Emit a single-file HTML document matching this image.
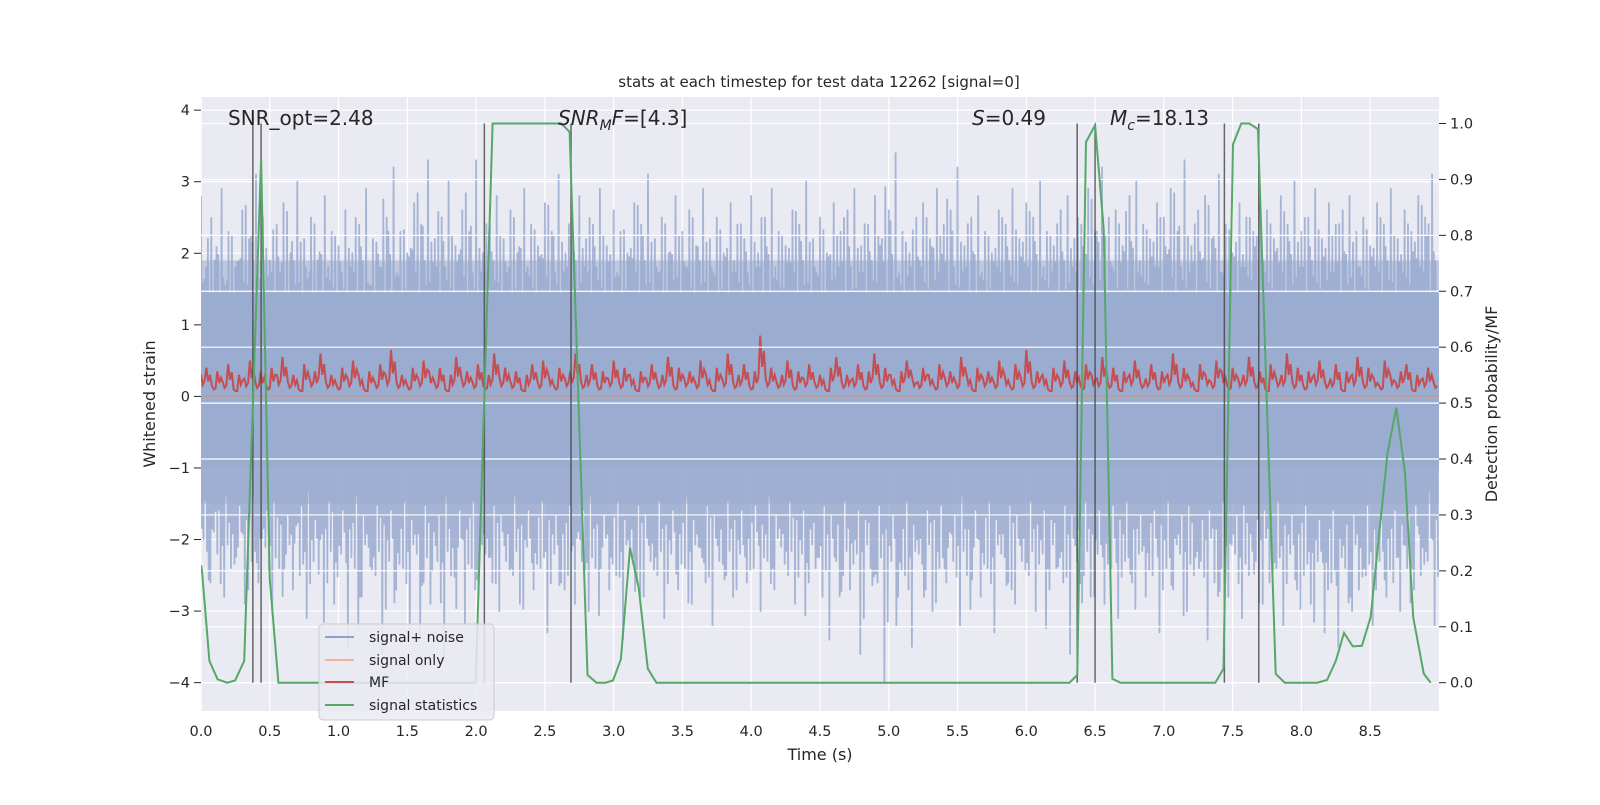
<!DOCTYPE html>
<html><head><meta charset="utf-8"><style>
body{margin:0;background:#fff;}
svg text{font-family:"DejaVu Sans","Liberation Sans",sans-serif;fill:#262626;}
</style></head><body>
<svg id="chart" width="1600" height="800" xmlns="http://www.w3.org/2000/svg">
<rect x="0" y="0" width="1600" height="800" fill="#fff"/>
<rect x="201" y="97" width="1238" height="614" fill="#eaeaf2"/>
<g id="grid"></g>
<clipPath id="clip"><rect x="201" y="97" width="1238" height="614"/></clipPath>
<g id="marks" clip-path="url(#clip)"></g>
<g id="grid2"></g>
<g id="marks2" clip-path="url(#clip)"></g>
<g id="axes"></g>
<text x="819" y="87" font-size="15" text-anchor="middle">stats at each timestep for test data 12262 [signal=0]</text>
<text x="228" y="125" font-size="20">SNR_opt=2.48</text>
<text x="558" y="125" font-size="20"><tspan font-style="italic">SNR</tspan><tspan font-style="italic" font-size="14" dy="5">M</tspan><tspan font-style="italic" dy="-5">F</tspan>=[4.3]</text>
<text x="972" y="125" font-size="20"><tspan font-style="italic">S</tspan>=0.49</text>
<text x="1110" y="125" font-size="20"><tspan font-style="italic">M</tspan><tspan font-style="italic" font-size="14" dy="5">c</tspan><tspan dy="-5">=18.13</tspan></text>
<text x="820" y="760" font-size="16" text-anchor="middle">Time (s)</text>
<text transform="translate(155,404) rotate(-90)" font-size="16" text-anchor="middle">Whitened strain</text>
<text transform="translate(1497,404) rotate(-90)" font-size="16" text-anchor="middle">Detection probability/MF</text>
<g>
<rect x="319" y="624" width="175" height="96" rx="4" fill="#eaeaf2" fill-opacity="0.85" stroke="#cccccc"/>
<g><line x1="325" y1="637" x2="354" y2="637" stroke="#8da0cb" stroke-width="2"/><text x="369" y="642" font-size="14">signal+ noise</text></g>
<g><line x1="325" y1="660" x2="354" y2="660" stroke="#eeb398" stroke-width="2"/><text x="369" y="665" font-size="14">signal only</text></g>
<g><line x1="325" y1="682" x2="354" y2="682" stroke="#c44e52" stroke-width="2"/><text x="369" y="687" font-size="14">MF</text></g>
<g><line x1="325" y1="705" x2="354" y2="705" stroke="#55a868" stroke-width="2"/><text x="369" y="710" font-size="14">signal statistics</text></g>
</g>
</svg>
<script>
const xTicks=[0,0.5,1,1.5,2,2.5,3,3.5,4,4.5,5,5.5,6,6.5,7,7.5,8,8.5];
const xTickLabels=["0.0","0.5","1.0","1.5","2.0","2.5","3.0","3.5","4.0","4.5","5.0","5.5","6.0","6.5","7.0","7.5","8.0","8.5"];
const yLeftTicks=[-4,-3,-2,-1,0,1,2,3,4];
const yRightTicks=[0,0.1,0.2,0.3,0.4,0.5,0.6,0.7,0.8,0.9,1.0];
const yRightLabels=["0.0","0.1","0.2","0.3","0.4","0.5","0.6","0.7","0.8","0.9","1.0"];
const statTimes=[0.0,0.007,0.061,0.121,0.19,0.248,0.314,0.437,0.5,0.563,1.997,2.12,2.62,2.68,2.81,2.875,2.94,2.995,3.053,3.119,3.182,3.248,3.311,6.313,6.371,6.434,6.5,6.563,6.626,6.684,7.374,7.434,7.503,7.563,7.621,7.684,7.813,7.879,8.115,8.187,8.25,8.31,8.374,8.44,8.503,8.626,8.69,8.753,8.813,8.89,8.94];
const statValues=[0.21,0.2,0.039,0.006,0,0.004,0.039,0.935,0.184,0,0,1.0,1.0,0.985,0.014,0,0,0.004,0.042,0.241,0.17,0.025,0,0,0.014,0.967,0.997,0.811,0.007,0,0,0.025,0.963,1.0,1.0,0.99,0.016,0,0,0.005,0.039,0.089,0.065,0.066,0.117,0.411,0.492,0.375,0.117,0.016,0];
const markerTimes=[0.377,0.437,2.06,2.69,6.37,6.5,7.44,7.69];
const noiseUpper=[2.8,2.2,1.9,2.9,2.3,1.8,2.6,2.2,3.1,2.5,1.9,2.4,2.7,2.0,3.0,2.2,2.5,1.9,2.8,2.3,2.1,2.6,2.0,2.4,2.9,2.2,1.8,2.5,3.2,2.3,2.0,2.7,2.4,3.3,2.2,2.5,3.0,2.1,2.6,2.3,3.3,2.0,2.4,2.8,2.2,2.6,2.0,2.9,2.4,2.1,2.7,2.3,3.1,2.0,2.5,2.8,2.2,2.4,2.9,2.1,2.6,2.3,2.0,2.7,2.4,3.1,2.2,2.5,2.0,2.8,2.3,2.6,2.1,2.9,2.2,2.5,2.0,2.7,2.4,2.2,2.8,2.0,2.5,2.9,2.3,2.1,2.6,2.4,3.0,2.2,2.5,2.0,2.7,2.3,2.6,2.9,2.1,2.4,2.8,2.2,2.6,3.4,2.3,2.0,2.5,2.7,2.2,2.9,2.4,2.6,3.2,2.1,2.5,2.8,2.3,2.0,2.6,2.4,2.9,2.2,2.7,2.5,3.0,2.3,2.1,2.6,2.8,2.2,2.4,2.9,2.3,3.2,2.5,2.6,2.1,2.8,3.0,2.4,2.2,2.7,2.5,2.9,2.3,3.3,2.1,2.6,2.8,2.2,3.1,2.4,2.0,2.7,2.5,2.3,2.9,2.6,2.2,2.8,2.4,3.0,2.3,2.5,2.9,2.2,2.7,2.4,2.6,2.8,2.3,2.5,2.1,2.7,2.4,2.9,2.2,2.6,2.3,2.8,2.5,3.1];
const noiseLower=[-2.3,-3.2,-2.0,-2.6,-2.2,-2.8,-2.4,-2.1,-2.9,-2.3,-2.6,-2.1,-3.0,-2.4,-2.2,-2.7,-2.5,-3.1,-2.3,-2.0,-2.6,-2.9,-2.2,-3.5,-2.4,-2.8,-2.1,-2.5,-3.6,-2.3,-2.7,-2.4,-3.3,-2.2,-2.6,-2.9,-2.3,-3.7,-2.5,-2.1,-3.2,-2.4,-2.8,-2.2,-2.6,-3.0,-2.3,-2.5,-2.9,-2.1,-2.7,-2.4,-3.3,-2.2,-2.6,-2.5,-2.9,-2.3,-3.0,-2.4,-2.1,-2.7,-2.5,-3.4,-2.2,-2.6,-2.8,-2.3,-2.5,-3.1,-2.2,-2.7,-2.4,-2.9,-2.1,-2.6,-3.2,-2.3,-2.5,-2.8,-2.2,-2.6,-2.4,-3.0,-2.3,-2.7,-2.1,-2.5,-2.9,-2.2,-2.6,-2.4,-2.8,-3.4,-2.3,-2.5,-2.7,-2.2,-3.1,-2.4,-2.6,-4.0,-2.3,-2.8,-2.5,-3.5,-2.2,-2.7,-3.0,-2.4,-2.6,-2.3,-3.2,-2.5,-2.1,-2.8,-2.4,-3.3,-2.2,-2.6,-2.9,-2.3,-2.5,-3.0,-2.2,-2.7,-2.4,-2.6,-3.6,-2.3,-2.5,-2.8,-2.2,-2.9,-2.4,-3.1,-2.3,-2.6,-2.2,-2.8,-2.5,-3.3,-2.4,-2.7,-2.2,-3.0,-2.5,-2.3,-3.4,-2.6,-2.4,-2.8,-2.2,-3.1,-2.5,-2.3,-2.9,-2.6,-2.4,-3.2,-2.2,-2.7,-2.5,-2.9,-2.3,-3.3,-2.6,-3.5,-2.4,-3.0,-2.7,-2.5,-3.2,-2.3,-2.8,-2.6,-3.0,-2.4,-2.7,-2.5];
const mfValues=[0.3,0.4,0.15,0.35,0.2,0.45,0.1,0.3,0.25,0.5,0.2,0.35,0.15,0.4,0.3,0.55,0.2,0.3,0.1,0.45,0.25,0.35,0.6,0.2,0.3,0.15,0.4,0.25,0.5,0.3,0.1,0.35,0.2,0.45,0.3,0.65,0.2,0.3,0.15,0.4,0.25,0.5,0.35,0.2,0.4,0.1,0.3,0.55,0.25,0.35,0.2,0.45,0.15,0.3,0.6,0.25,0.4,0.2,0.35,0.1,0.3,0.45,0.2,0.5,0.3,0.15,0.4,0.25,0.35,0.6,0.2,0.3,0.45,0.15,0.35,0.25,0.5,0.2,0.4,0.3,0.1,0.35,0.25,0.45,0.2,0.3,0.55,0.15,0.4,0.25,0.35,0.2,0.5,0.3,0.1,0.4,0.25,0.6,0.2,0.3,0.45,0.15,0.35,0.85,0.25,0.4,0.2,0.3,0.5,0.15,0.35,0.25,0.45,0.2,0.3,0.1,0.4,0.55,0.2,0.3,0.25,0.45,0.15,0.35,0.6,0.2,0.4,0.3,0.1,0.35,0.5,0.25,0.2,0.4,0.3,0.15,0.45,0.25,0.35,0.2,0.55,0.3,0.1,0.4,0.25,0.35,0.2,0.5,0.3,0.15,0.45,0.25,0.65,0.2,0.35,0.3,0.1,0.4,0.25,0.5,0.2,0.35,0.15,0.45,0.3,0.25,0.55,0.2,0.4,0.1,0.35,0.3,0.5,0.2,0.25,0.45,0.15,0.35,0.3,0.6,0.2,0.4,0.25,0.1,0.45,0.3,0.2,0.5,0.35,0.15,0.4,0.25,0.3,0.55,0.2,0.35,0.1,0.45,0.25,0.3,0.6,0.2,0.4,0.15,0.35,0.3,0.5,0.2,0.25,0.45,0.1,0.35,0.3,0.55,0.2,0.4,0.25,0.15,0.5,0.3,0.2,0.35,0.45,0.1,0.3,0.25,0.4,0.2];

const NS="http://www.w3.org/2000/svg";
const X0=201,PXS=137.55;
function xs(t){return X0+t*PXS;}
function yl(v){return 396.4-v*71.56;}
function yr(p){return 682.7-p*559.2;}
function mk(tag,attrs,parent){const e=document.createElementNS(NS,tag);for(const k in attrs)e.setAttribute(k,attrs[k]);parent.appendChild(e);return e;}
const grid=document.getElementById('grid'),grid2=document.getElementById('grid2'),marks=document.getElementById('marks'),marks2=document.getElementById('marks2'),axes=document.getElementById('axes');

xTicks.forEach((t,i)=>{
  const g=mk('line',{x1:xs(t),x2:xs(t),y1:97,y2:711,stroke:'#fff','stroke-width':1.2},grid);
  
  
  const tx=mk('text',{x:xs(t),y:736,'font-size':14.5,'text-anchor':'middle'},axes);
  tx.textContent=xTickLabels[i];
  
  
});
yLeftTicks.forEach(v=>{
  const g=mk('line',{x1:201,x2:1439,y1:yl(v),y2:yl(v),stroke:'#fff','stroke-width':1.2},grid);
  
  
  mk('line',{x1:194,x2:201,y1:yl(v),y2:yl(v),stroke:'#262626','stroke-width':1},axes);
  const tx=mk('text',{x:190,y:yl(v)+5,'font-size':14.5,'text-anchor':'end'},axes);
  tx.textContent=(v<0?'\u2212'+(-v):String(v));
  
  
});
yRightTicks.forEach((p,i)=>{
  const g=mk('line',{x1:201,x2:1439,y1:yr(p),y2:yr(p),stroke:'#fff','stroke-width':1.2},grid2);
  
  
  mk('line',{x1:1439,x2:1446,y1:yr(p),y2:yr(p),stroke:'#262626','stroke-width':1},axes);
  const tx=mk('text',{x:1450,y:yr(p)+5,'font-size':14.5},axes);
  tx.textContent=yRightLabels[i];
  
  
});

const N=noiseUpper.length, dt=9.0/N;
const upMul=[1,0.72,0.86,0.62];
const loMul=[0.8,1,0.66,0.9];
let d='';
for(let i=0;i<N;i++){
  for(let k=0;k<4;k++){
    const t=i*dt+k*dt/4;
    d+=((i||k)?'L':'M')+xs(t).toFixed(1)+','+yl(noiseUpper[(i+k)%N]*upMul[k]).toFixed(1)+'L'+(xs(t)+0.8).toFixed(1)+','+yl(noiseLower[(i+2*k)%N]*loMul[k]).toFixed(1);
  }
}
const noise=mk('path',{d:d,fill:'none',stroke:'#8da0cb','stroke-width':1.8,'stroke-opacity':0.75,'stroke-linejoin':'round'},marks);


const mid=mk('rect',{x:201,y:yl(1.9),width:1238,height:yl(-1.5)-yl(1.9),fill:'#9aacd0','fill-opacity':0.55},marks);


const core=mk('rect',{x:201,y:yl(1.45),width:1238,height:yl(-1.0)-yl(1.45),fill:'#9aacd0'},marks);



const sig=mk('line',{x1:201,x2:1439,y1:yl(0),y2:yl(0),stroke:'#dd8452','stroke-opacity':0.45,'stroke-width':1.5},marks);



const M=mfValues.length, mdt=9.0/M;
let mfd='';
mfValues.forEach((v,i)=>{
  mfd+=(i?'L':'M')+xs(i*mdt).toFixed(1)+','+yl(v).toFixed(1);
  mfd+='L'+xs(i*mdt+mdt/3).toFixed(1)+','+yl(v*0.45+0.03).toFixed(1);
  mfd+='L'+xs(i*mdt+2*mdt/3).toFixed(1)+','+yl(v*0.75).toFixed(1);
});
const mf=mk('path',{d:mfd,fill:'none',stroke:'#c44e52','stroke-width':2},marks);



markerTimes.forEach(t=>{
  const l=mk('line',{x1:xs(t),x2:xs(t),y1:yr(1),y2:yr(0),stroke:'#444','stroke-opacity':0.8,'stroke-width':1.5},marks2);
  
  
});

const sd=statTimes.map((t,i)=>(i?'L':'M')+xs(t).toFixed(1)+','+yr(statValues[i]).toFixed(1)).join('');
const st=mk('path',{d:sd,fill:'none',stroke:'#55a868','stroke-width':2},marks2);


</script>
</body></html>
